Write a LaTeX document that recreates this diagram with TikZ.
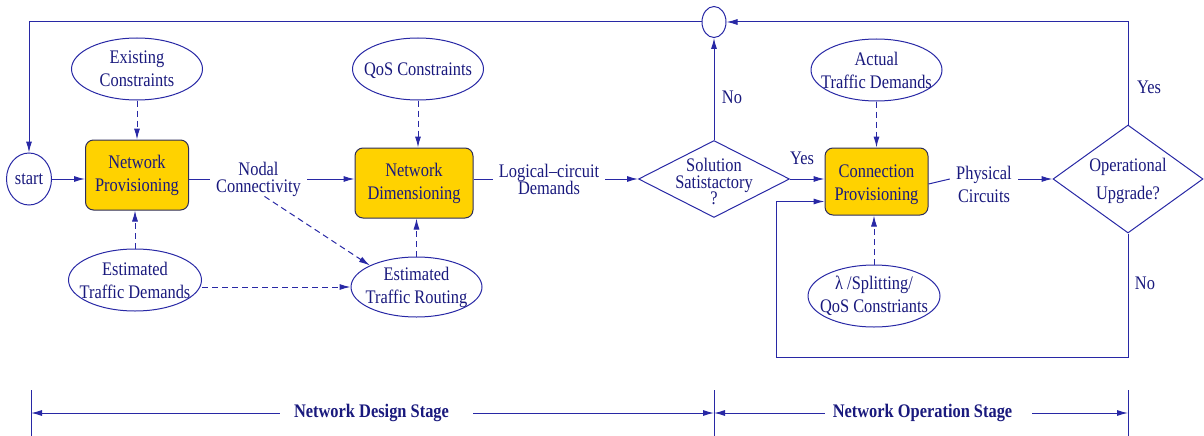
\documentclass[tikz,border=0pt]{standalone}
\usepackage{fontspec}
\setmainfont{Liberation Serif}
\usepackage{graphicx}
\usetikzlibrary{shapes.geometric,arrows.meta}

\definecolor{ln}{RGB}{40,40,165}
\definecolor{tx}{RGB}{25,25,125}
\definecolor{gold}{RGB}{255,210,0}
\definecolor{bx}{RGB}{45,45,90}

% stacked, centred lines of text (separated by \cr), slightly tall glyphs
\newcommand{\stk}[2][19.7pt]{\scalebox{1}[1.17]{\vbox{\fontsize{16.4pt}{#1}\selectfont
  \lineskiplimit=-\maxdimen\halign{\hfil##\hfil\cr#2\crcr}}}}

\tikzset{
  conn/.style={draw=ln, line width=1pt, -{Latex[length=11pt,width=6pt]}},
  dconn/.style={conn, dash pattern=on 6pt off 4pt},
  plain/.style={draw=ln, line width=1pt},
  oval/.style={ellipse, draw=ln, line width=1pt, inner sep=0pt, text=tx},
  task/.style={rectangle, rounded corners=8pt, draw=bx, fill=gold, line width=1pt, inner sep=0pt, text=tx},
  decide/.style={diamond, draw=ln, line width=1pt, inner sep=0pt},
  lbl/.style={inner sep=0pt, text=tx},
  intext/.style={label={[lbl]center:\stk{#1}}},
}

\begin{document}
\begin{tikzpicture}[x=1pt,y=-1pt]
\useasboundingbox (0,0) rectangle (1204,436);

% ---- design stage ----
\node[oval, minimum width=45pt, minimum height=52pt, intext={start}] (start) at (29,179) {};
\node[task, minimum width=103pt, minimum height=70pt] (np) at (137,175) {\stk{Network\cr Provisioning}};
\node[oval, minimum width=131pt, minimum height=62pt, intext={Existing\cr Constraints}] (ec) at (137,69) {};
\node[oval, minimum width=133pt, minimum height=62pt, intext={Estimated\cr Traffic Demands}] (etd) at (135,280) {};
\node[lbl, minimum width=97pt] (nc) at (258.5,179) {\stk[14.5pt]{Nodal\cr Connectivity}};
\node[task, minimum width=118pt, minimum height=70pt] (nd) at (414,183) {\stk{Network\cr Dimensioning}};
\node[oval, minimum width=131pt, minimum height=62pt, label={[lbl,yshift=-2pt]center:\stk{QoS Constraints}}] (qos) at (418,69) {};
\node[oval, minimum width=131pt, minimum height=60pt, intext={Estimated\cr Traffic Routing}] (etr) at (416.5,287) {};
\node[lbl, minimum width=112pt] (lc) at (549,179) {\stk[14.5pt]{Logical--circuit\cr Demands}};

% ---- decision and loop ----
\node[decide, minimum width=151pt, minimum height=77pt] (ss) at (714,179) {};
\node[lbl] (sst) at (714,181.5) {\stk[14.5pt]{Solution\cr Satistactory\cr ?}};
\node[ellipse, draw=ln, line width=1pt, inner sep=0pt, minimum width=24pt, minimum height=31pt] (loopc) at (714,22) {};
\node[lbl] (nol) at (732,97) {\stk{No}};
\node[lbl] (yesl) at (802,158) {\stk{Yes}};

% ---- operation stage ----
\node[task, minimum width=103pt, minimum height=67pt, label={[lbl,yshift=-3pt]center:\stk{Connection\cr Provisioning}}] (cp) at (876.5,181.5) {};
\node[oval, minimum width=131pt, minimum height=62pt, intext={Actual\cr Traffic Demands}] (atd) at (876.5,70) {};
\node[oval, minimum width=132pt, minimum height=62pt, intext={λ /Splitting/\cr QoS Constriants}] (lam) at (874,296) {};
\node[lbl, minimum width=68pt] (pc) at (984,184) {\stk{Physical\cr Circuits}};
\node[decide, minimum width=150pt, minimum height=108pt] (ou) at (1128,179) {};
\node[lbl] (out) at (1128,181) {\stk[24pt]{Operational\cr Upgrade?}};
\node[lbl] (yes2) at (1149,87) {\stk{Yes}};
\node[lbl] (no2) at (1145,283) {\stk{No}};
\coordinate (noturn) at (776,357);

% ---- connectors ----
\draw[conn] (start.east) -- (start.east -| np.west);
\draw[dconn] (ec.south) -- (ec.south |- np.north);
\draw[dconn] (etd.north) -- (etd.north |- np.south);
\draw[plain] (np.east |- nc.west) -- (nc.west);
\draw[conn] (nc.east) -- (nc.east -| nd.west);
\draw[dconn] ([xshift=6pt]nc.south) -- (etr.north west);
\draw[dconn] (etd.east |- etr.west) -- (etr.west);
\draw[dconn] (qos.south) -- (qos.south |- nd.north);
\draw[dconn] (etr.north) -- (etr.north |- nd.south);
\draw[plain] (nd.east |- lc.west) -- (lc.west);
\draw[conn] (lc.east) -- (lc.east -| ss.west);
\draw[conn] (ss.north) -- (loopc.south);
\draw[conn] (loopc.west) -| (start.north);
\draw[conn] (ss.east) -- (ss.east -| cp.west);
\draw[dconn] (atd.south) -- (atd.south |- cp.north);
\draw[dconn] (lam.north) -- (lam.north |- cp.south);
\draw[plain] (cp.east |- pc.west) -- (pc.west |- ou.west);
\draw[conn] (pc.east |- ou.west) -- (ou.west);
\draw[conn] (ou.north) |- (loopc.east);
\draw[conn] (ou.south) |- (noturn) |- ([yshift=-20pt]cp.west);

% ---- stage bar ----
\coordinate (tA) at (31,413);
\coordinate (tB) at (714,413);
\coordinate (tC) at (1128,413);
\foreach \t in {tA,tB,tC} \draw[plain] ([yshift=23pt]\t) -- ([yshift=-25pt]\t);
\node[lbl, minimum width=193pt, label={[lbl,xshift=-5pt]center:\stk{\bfseries Network Design Stage}}] (dsl) at (376.5,413) {};
\node[lbl, minimum width=207pt, label={[lbl,xshift=-6pt]center:\stk{\bfseries Network Operation Stage}}] (osl) at (928.5,413) {};
\draw[conn] (dsl.west) -- (tA);
\draw[conn] (dsl.east) -- (tB);
\draw[conn] (osl.west) -- (tB);
\draw[conn] (osl.east) -- (tC);
\end{tikzpicture}
\end{document}
